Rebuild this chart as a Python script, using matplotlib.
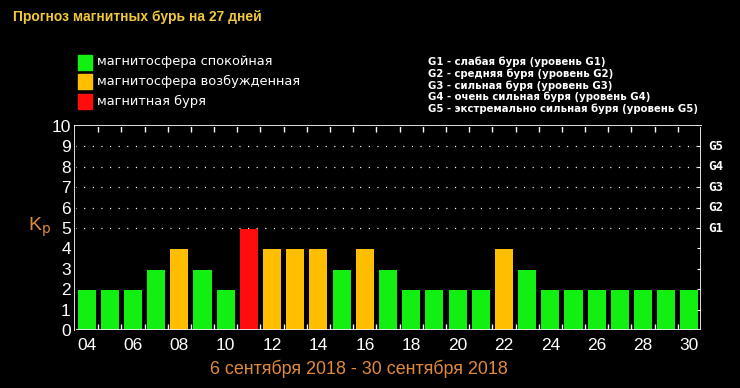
import numpy as np
import matplotlib.pyplot as plt

# forecast data, 4..30 September 2018
days = np.arange(4, 31)
kp = [2, 2, 2, 3, 4, 3, 2, 5, 4, 4, 4, 3, 4, 3, 2, 2, 2, 2, 4, 3, 2, 2, 2, 2, 2, 2, 2]
xlabels = ['%02d' % d for d in range(4, 31, 2)]
glevels = ['G1', 'G2', 'G3', 'G4', 'G5']
legend_items = ['магнитосфера спокойная', 'магнитосфера возбужденная', 'магнитная буря']
glegend = ['G1 - слабая буря (уровень G1)',
           'G2 - средняя буря (уровень G2)',
           'G3 - сильная буря (уровень G3)',
           'G4 - очень сильная буря (уровень G4)',
           'G5 - экстремально сильная буря (уровень G5)']

GREEN, ORANGE, RED = '#11f011', '#ffbf00', '#ff0d0d'
colors = [RED if v >= 5 else ORANGE if v == 4 else GREEN for v in kp]

fig = plt.figure(figsize=(7.4, 3.88), dpi=100, facecolor='black')
ax = fig.add_axes([75/740, 58/388, 626/740, 204/388], facecolor='black')

ax.bar(days, np.array(kp) - 0.05, width=0.78, color=colors, zorder=2)
for y in range(5, 10):
    ax.axhline(y, color='white', lw=0.9, ls=(0, (0.9, 6)), zorder=1)

ax.set_xlim(3.5, 30.5)
ax.set_ylim(0, 10)
for s in ax.spines.values():
    s.set_color('white')
    s.set_linewidth(1.3)

ax.set_xticks(range(4, 31, 2))
ax.set_xticklabels(xlabels)
ax.set_xticks(np.arange(4.5, 30, 1), minor=True)
ax.tick_params(axis='x', which='major', length=0, colors='white', labelsize=12.5, pad=6)
ax.tick_params(axis='x', which='minor', direction='in', length=4, color='white',
               top=True, bottom=True, width=1)
ax.set_yticks(range(0, 11))
ax.tick_params(axis='y', length=0, colors='white', labelsize=12.5, pad=3)
for lab in ax.get_yticklabels() + ax.get_xticklabels():
    lab.set_fontfamily('Liberation Sans')

# right side ticks and G levels
ax2 = ax.twinx()
ax2.set_ylim(0, 10)
ax2.set_yticks(range(1, 10))
ax2.tick_params(axis='y', direction='in', length=3, color='white', labelright=False)
for i, g in enumerate(glevels):
    ax.text(30.8, 5 + i, g, color='white', fontsize=9, fontweight='bold',
            va='center', ha='left', family='DejaVu Sans Mono')

fig.text(13/740, 1 - 17/388, 'Прогноз магнитных бурь на 27 дней', color='#f2c93a',
         fontsize=10, fontweight='bold', va='center', ha='left', family='Liberation Sans')

for i, (lab, c) in enumerate(zip(legend_items, [GREEN, ORANGE, RED])):
    yc = 1 - (62 + 19.5 * i) / 388
    fig.patches.append(plt.Rectangle((78/740, yc - 7.5/388), 14/740, 15/388,
                                     transform=fig.transFigure, color=c))
    fig.text(97/740, yc, lab, color='white', fontsize=9.4, va='center', ha='left')

for i, lab in enumerate(glegend):
    fig.text(428/740, 1 - (62 + 11.7 * i) / 388, lab, color='white', fontsize=7.3,
             fontweight='bold', va='center', ha='left')

fig.text(40/740, 1 - 227/388, r'K$_\mathrm{p}$', color='#e08a3a', fontsize=14,
         va='center', ha='center', family='Liberation Sans')
fig.text(359/740, 1 - 369/388, '6 сентября 2018 - 30 сентября 2018', color='#e08a3a',
         fontsize=12.9, va='center', ha='center', family='Liberation Sans')

fig.savefig('out.png', dpi=100, facecolor='black')
